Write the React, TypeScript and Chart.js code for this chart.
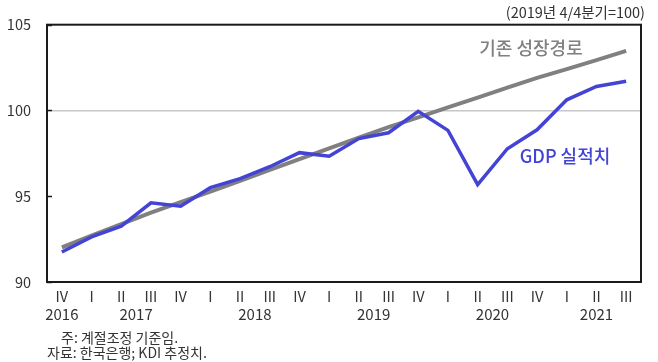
import React, { useEffect, useRef } from "react";
import { Chart, registerables } from "chart.js";

Chart.register(...registerables);

const quarters = ["IV", "I", "II", "III", "IV", "I", "II", "III", "IV", "I", "II", "III", "IV", "I", "II", "III", "IV", "I", "II", "III"];
const years = [2016, 2017, 2017, 2017, 2017, 2018, 2018, 2018, 2018, 2019, 2019, 2019, 2019, 2020, 2020, 2020, 2020, 2021, 2021, 2021];
const gdpActual = [91.75, 92.63, 93.26, 94.62, 94.42, 95.5, 96.03, 96.72, 97.54, 97.33, 98.36, 98.7, 99.95, 98.84, 95.68, 97.77, 98.87, 100.62, 101.4, 101.7];
const trendPath = [92.02, 92.7, 93.37, 94.05, 94.66, 95.27, 95.9, 96.53, 97.16, 97.79, 98.42, 99.03, 99.6, 100.18, 100.75, 101.33, 101.9, 102.41, 102.93, 103.47];
const yMin = 90;
const yMax = 105;
const yStep = 5;

const unitNote = "(2019년 4/4분기=100)";
const trendLabel = "기존 성장경로";
const gdpLabel = "GDP 실적치";
const footNote1 = "주: 계절조정 기준임.";
const footNote2 = "자료: 한국은행; KDI 추정치.";

const FONT = "'Noto Sans CJK KR', 'Noto Sans', sans-serif";
const BLUE = "#4343d6";
const GRAY = "#808080";
const TEXT = "#333333";

export default function App() {
  const ref = useRef<HTMLCanvasElement>(null);

  useEffect(() => {
    document.body.style.margin = "0";
    if (!ref.current) return;

    const decor = {
      id: "decor",
      afterDraw(chart: any) {
        const ctx = chart.ctx;
        const { left, right, top, bottom } = chart.chartArea;
        const x = chart.scales.x;
        const y = chart.scales.y;
        ctx.save();
        // frame
        ctx.strokeStyle = "#1a1a1a";
        ctx.lineWidth = 2;
        ctx.strokeRect(left, top, right - left, bottom - top);
        // inner ticks on y axis
        ctx.lineWidth = 1.5;
        for (let v = yMin; v <= yMax; v += yStep) {
          const py = Math.round(y.getPixelForValue(v)) + 0.5;
          ctx.beginPath();
          ctx.moveTo(left, py);
          ctx.lineTo(left + 5, py);
          ctx.stroke();
        }
        // years
        ctx.fillStyle = TEXT;
        ctx.font = `15px ${FONT}`;
        ctx.textAlign = "center";
        ctx.textBaseline = "middle";
        let i = 0;
        while (i < years.length) {
          let j = i;
          while (j + 1 < years.length && years[j + 1] === years[i]) j++;
          const cx = (x.getPixelForValue(i) + x.getPixelForValue(j)) / 2;
          ctx.fillText(String(years[i]), cx, bottom + 32);
          i = j + 1;
        }
        // unit note
        ctx.font = `14.5px ${FONT}`;
        ctx.textAlign = "right";
        ctx.fillText(unitNote, right + 4, 12);
        // series labels
        ctx.font = `500 18px ${FONT}`;
        ctx.textAlign = "center";
        ctx.fillStyle = GRAY;
        ctx.fillText(trendLabel, 531, 48);
        ctx.fillStyle = BLUE;
        ctx.fillText(gdpLabel, 565, 156);
        // footnotes
        ctx.fillStyle = TEXT;
        ctx.font = `14px ${FONT}`;
        ctx.textAlign = "left";
        ctx.fillText(footNote1, 61, 338);
        ctx.fillText(footNote2, 47, 353);
        ctx.restore();
      },
    };

    const chart = new Chart(ref.current, {
      type: "line",
      data: {
        labels: quarters,
        datasets: [
          {
            label: gdpLabel,
            data: gdpActual,
            borderColor: BLUE,
            borderWidth: 3.5,
            pointRadius: 0,
            tension: 0,
            fill: false,
          },
          {
            label: trendLabel,
            data: trendPath,
            borderColor: GRAY,
            borderWidth: 4,
            pointRadius: 0,
            tension: 0,
            fill: false,
          },
        ],
      },
      options: {
        animation: false,
        responsive: true,
        maintainAspectRatio: false,
        layout: { padding: { top: 24, right: 17, left: 0, bottom: 0 } },
        plugins: { legend: { display: false }, tooltip: { enabled: false } },
        scales: {
          x: {
            type: "category",
            offset: true,
            grid: { display: false, drawTicks: false },
            border: { display: false },
            ticks: {
              autoSkip: false,
              maxRotation: 0,
              padding: 6,
              color: TEXT,
              font: { family: FONT, size: 14.5 },
            },
            afterFit(scale: any) {
              scale.height = 80;
            },
          },
          y: {
            min: yMin,
            max: yMax,
            border: { display: false },
            grid: {
              drawTicks: false,
              color: (c: any) => (c.tick && c.tick.value === 100 ? "#c8c8c8" : "rgba(0,0,0,0)"),
              lineWidth: 1.5,
            },
            ticks: {
              stepSize: yStep,
              padding: 16,
              color: TEXT,
              font: { family: FONT, size: 14.5 },
            },
            afterFit(scale: any) {
              scale.width = 47;
            },
          },
        },
      },
      plugins: [decor],
    });

    return () => chart.destroy();
  }, []);

  return (
    <div style={{ position: "relative", width: 658, height: 362 }}>
      <canvas ref={ref} />
    </div>
  );
}
